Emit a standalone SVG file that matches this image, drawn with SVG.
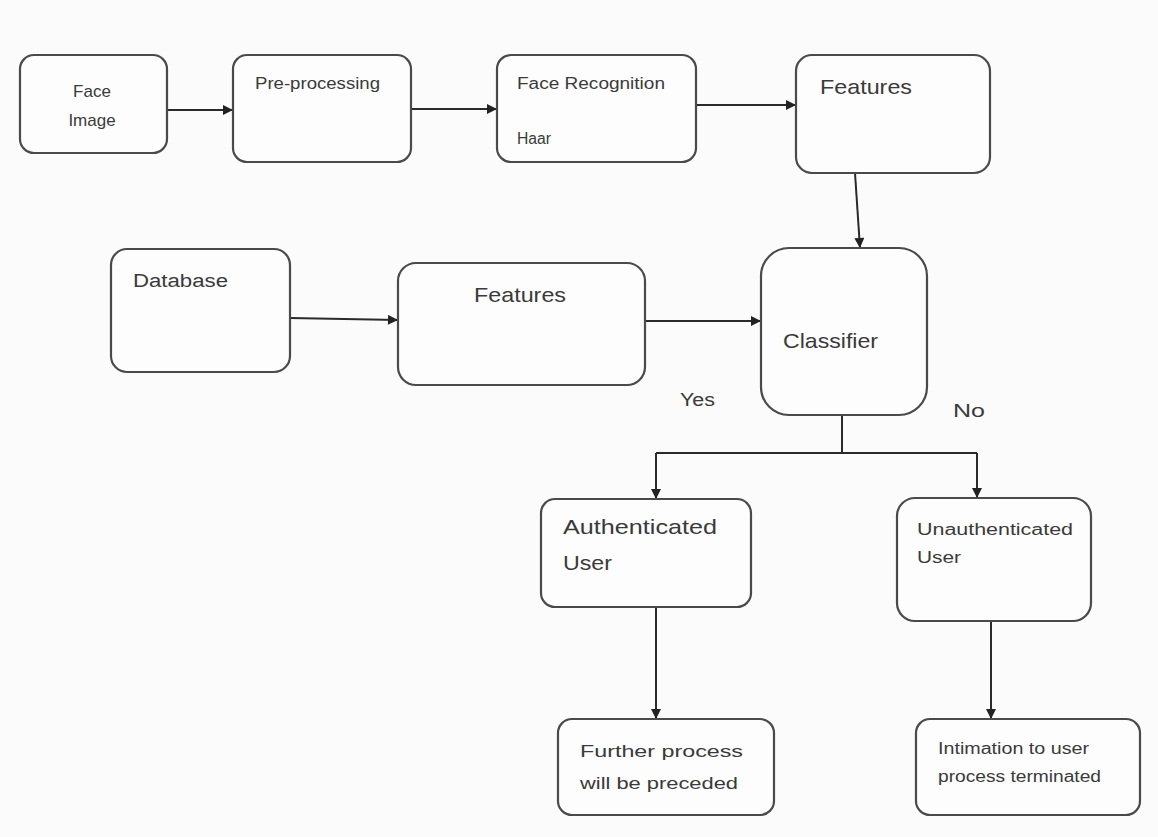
<svg xmlns="http://www.w3.org/2000/svg" width="1158" height="837" viewBox="0 0 1158 837">
  <defs>
    <marker id="arrow" viewBox="0 0 10 10" refX="10" refY="5" markerWidth="11" markerHeight="10" markerUnits="userSpaceOnUse" orient="auto">
      <path d="M0,0 L10,5 L0,10 z" fill="#222"/>
    </marker>
    <style>
      .box { fill: #fdfdfd; stroke: #4a4a4a; stroke-width: 2.2; }
      .lbl { font-family: "Liberation Sans", Arial, sans-serif; fill: #3a3a3a; }
      .link { fill: none; stroke: #2a2a2a; stroke-width: 2; }
      .arr { marker-end: url(#arrow); }
    </style>
  </defs>

  <rect x="0" y="0" width="1158" height="837" fill="#fbfbfb"/>

  <!-- connectors -->
  <g id="connectors">
    <line class="link arr" x1="167" y1="110" x2="233" y2="110"/>
    <line class="link arr" x1="411" y1="109" x2="497" y2="109"/>
    <line class="link arr" x1="696" y1="105" x2="796" y2="105"/>
    <line class="link arr" x1="855" y1="173" x2="860" y2="248"/>
    <line class="link arr" x1="290" y1="318" x2="398" y2="320"/>
    <line class="link arr" x1="645" y1="321" x2="761" y2="321"/>
    <line class="link" x1="842" y1="415" x2="842" y2="453"/>
    <line class="link" x1="656" y1="453" x2="977" y2="453"/>
    <line class="link arr" x1="656" y1="453" x2="656" y2="499"/>
    <line class="link arr" x1="977" y1="453" x2="977" y2="498"/>
    <line class="link arr" x1="656" y1="607" x2="656" y2="719"/>
    <line class="link arr" x1="991" y1="621" x2="991" y2="719"/>
  </g>

  <g id="face-image">
    <rect class="box" x="20" y="55" width="147" height="98" rx="14"/>
    <text class="lbl" x="92" y="97" font-size="17" text-anchor="middle">Face</text>
    <text class="lbl" x="92" y="126" font-size="17" text-anchor="middle">Image</text>
  </g>

  <g id="pre-processing">
    <rect class="box" x="233" y="55" width="178" height="107" rx="14"/>
    <text class="lbl" x="255" y="89" font-size="16" textLength="125" lengthAdjust="spacingAndGlyphs">Pre-processing</text>
  </g>

  <g id="face-recognition">
    <rect class="box" x="497" y="55" width="199" height="107" rx="14"/>
    <text class="lbl" x="517" y="89" font-size="16" textLength="148" lengthAdjust="spacingAndGlyphs">Face Recognition</text>
    <text class="lbl" x="517" y="144" font-size="16" textLength="34" lengthAdjust="spacingAndGlyphs">Haar</text>
  </g>

  <g id="features-extracted">
    <rect class="box" x="796" y="55" width="194" height="118" rx="16"/>
    <text class="lbl" x="820" y="94" font-size="21" textLength="92" lengthAdjust="spacingAndGlyphs">Features</text>
  </g>

  <g id="database">
    <rect class="box" x="111" y="249" width="179" height="123" rx="16"/>
    <text class="lbl" x="133" y="287" font-size="18" textLength="95" lengthAdjust="spacingAndGlyphs">Database</text>
  </g>

  <g id="features-stored">
    <rect class="box" x="398" y="263" width="247" height="122" rx="18"/>
    <text class="lbl" x="474" y="302" font-size="21" textLength="92" lengthAdjust="spacingAndGlyphs">Features</text>
  </g>

  <g id="classifier">
    <rect class="box" x="761" y="248" width="166" height="167" rx="28"/>
    <text class="lbl" x="783" y="348" font-size="21" textLength="95" lengthAdjust="spacingAndGlyphs">Classifier</text>
  </g>

  <g id="branch-labels">
    <text class="lbl" x="680" y="406" font-size="18" textLength="35" lengthAdjust="spacingAndGlyphs">Yes</text>
    <text class="lbl" x="953" y="417" font-size="19" textLength="32" lengthAdjust="spacingAndGlyphs">No</text>
  </g>

  <g id="authenticated-user">
    <rect class="box" x="541" y="499" width="210" height="108" rx="14"/>
    <text class="lbl" x="563" y="534" font-size="21" textLength="154" lengthAdjust="spacingAndGlyphs">Authenticated</text>
    <text class="lbl" x="563" y="570" font-size="21" textLength="49" lengthAdjust="spacingAndGlyphs">User</text>
  </g>

  <g id="unauthenticated-user">
    <rect class="box" x="897" y="498" width="194" height="123" rx="18"/>
    <text class="lbl" x="917" y="535" font-size="16" textLength="156" lengthAdjust="spacingAndGlyphs">Unauthenticated</text>
    <text class="lbl" x="917" y="563" font-size="16" textLength="44" lengthAdjust="spacingAndGlyphs">User</text>
  </g>

  <g id="further-process">
    <rect class="box" x="558" y="719" width="216" height="96" rx="14"/>
    <text class="lbl" x="580" y="757" font-size="17" textLength="163" lengthAdjust="spacingAndGlyphs">Further process</text>
    <text class="lbl" x="580" y="789" font-size="17" textLength="158" lengthAdjust="spacingAndGlyphs">will be preceded</text>
  </g>

  <g id="intimation">
    <rect class="box" x="916" y="719" width="224" height="96" rx="14"/>
    <text class="lbl" x="938" y="754" font-size="16" textLength="151" lengthAdjust="spacingAndGlyphs">Intimation to user</text>
    <text class="lbl" x="938" y="782" font-size="16" textLength="163" lengthAdjust="spacingAndGlyphs">process terminated</text>
  </g>
</svg>
